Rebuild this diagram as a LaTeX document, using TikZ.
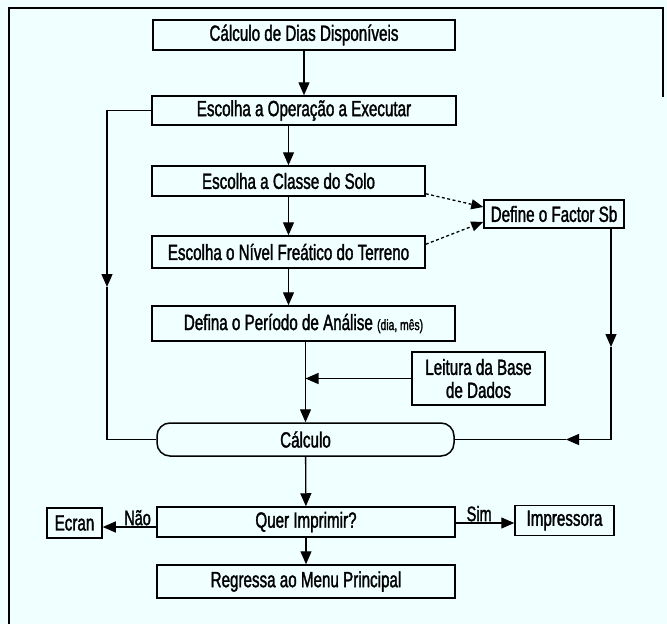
\documentclass[tikz,border=0pt]{standalone}
\usepackage{fontspec}
\setmainfont{Liberation Sans}[FakeStretch=0.69, FakeBold=1.5]
\usetikzlibrary{arrows.meta}
\definecolor{paper}{RGB}{240,255,255}
\begin{document}
\begin{tikzpicture}[x=1pt,y=-1pt,
  box/.style={draw, line width=1.5pt, inner sep=0pt, font=\fontsize{22}{23}\selectfont},
  conn/.style={line width=1.3pt},
  arr/.style={conn, -{Triangle[length=13pt,width=11pt]}},
  dashconn/.style={line width=1.3pt, dash pattern=on 3pt off 2.5pt, -{Triangle[length=12pt,width=10pt]}},
  lbl/.style={font=\fontsize{21}{22}\selectfont, inner sep=1pt}]
  % paper and outer frame
  \fill[paper] (0,0) rectangle (667,624);
  \useasboundingbox (0,0) rectangle (667,624);
  \draw[line width=1.4pt] (9,624) -- (9,8) -- (663,8) -- (663,97);

  % boxes
  \node[box, minimum width=302pt, minimum height=30pt] (b1) at (304,35) {Cálculo de Dias Disponíveis};
  \node[box, minimum width=304pt, minimum height=29pt] (b2) at (304,110.5) {Escolha a Operação a Executar};
  \node[box, minimum width=273pt, minimum height=30pt] (b3) at (288.5,181) {Escolha a Classe do Solo};
  \node[box, minimum width=273pt, minimum height=32pt] (b4) at (288.5,252) {Escolha o Nível Freático do Terreno};
  \node[box, minimum width=303pt, minimum height=35pt] (b5) at (303.5,323.5) {Defina o Período de Análise {\fontsize{15}{16}\selectfont(dia, mês)}};
  \node[box, minimum width=140pt, minimum height=28pt] (fac) at (554,214) {Define o Factor Sb};
  \node[box, minimum width=133pt, minimum height=53pt, align=center] (lei) at (478.5,378.5) {Leitura da Base\\de Dados};
  \node[box, rounded corners=13pt, minimum width=297pt, minimum height=33pt] (calc) at (305.5,439.5) {Cálculo};
  \node[box, minimum width=298pt, minimum height=30pt] (quer) at (306,522) {Quer Imprimir?};
  \node[box, minimum width=55pt, minimum height=30pt] (ecran) at (74.5,523) {Ecran};
  \node[box, minimum width=99pt, minimum height=30pt] (imp) at (564.5,520.5) {Impressora};
  \node[box, minimum width=298pt, minimum height=33pt] (reg) at (306,581.5) {Regressa ao Menu Principal};

  % main chain
  \draw[arr] (b1.south -| b2.north) -- (b2.north);
  \draw[arr] (b2.south -| b3.north) -- (b3.north);
  \draw[arr] (b3) -- (b4);
  \draw[arr] (b4.south) -- (b4.south |- b5.north);
  \draw[arr] (b5.south -| calc.north) -- (calc.north);
  \draw[arr] (lei.west) -- (lei.west -| calc.north);
  \draw[arr] (calc) -- (quer);
  \draw[arr] (quer) -- (reg);

  % bypass on the left: operation straight to the calculation
  \coordinate (lt) at (107,110.5);
  \coordinate (lm) at (107,287);
  \coordinate (lb) at (107,439.5);
  \draw[arr] (b2.west) -- (lt) -- (lm);
  \draw[conn] (lm) -- (lb) -- (calc.west);

  % soil factor inputs
  \draw[dashconn] ([yshift=3pt]b3.south east) -- ([yshift=7pt]fac.west);
  \draw[dashconn] ([yshift=-9pt]b4.north east) -- ([yshift=-8pt]fac.west);

  % soil factor down to the calculation
  \coordinate (ft) at ([xshift=57pt]fac.south);
  \coordinate (fm) at (611,347);
  \coordinate (fb) at (611,439.5);
  \coordinate (fh) at (566,439.5);
  \draw[arr] (ft) -- (fm);
  \draw[conn] (fm) -- (fb);
  \draw[arr] (fb) -- (fh);
  \draw[conn] (fh) -- (calc.east);

  % print choice
  \coordinate (nw) at ([yshift=-5pt]quer.west);
  \coordinate (se) at ([yshift=-1pt]quer.east);
  \draw[arr] (nw) -- (nw -| ecran.east) node[lbl, pos=0.35, above] {Não};
  \draw[arr] (se) -- (se -| imp.west) node[lbl, pos=0.4, above] {Sim};
\end{tikzpicture}
\end{document}
